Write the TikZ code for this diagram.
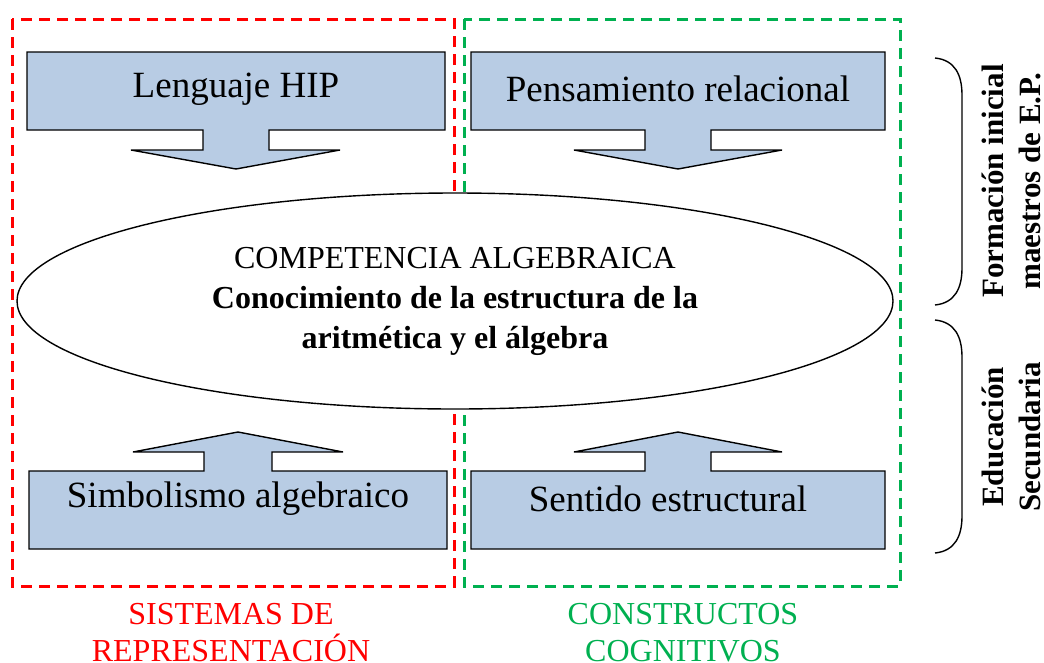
\documentclass[tikz,border=0pt]{standalone}
\usepackage{fontspec}
\setmainfont{Liberation Serif}
\usetikzlibrary{shapes.geometric}
\definecolor{cajaazul}{RGB}{184,204,228}
\definecolor{rojo}{RGB}{255,0,0}
\definecolor{verde}{RGB}{0,176,80}
\begin{document}
\begin{tikzpicture}[x=1pt,y=-1pt,
  marco/.style={line width=3pt,dash pattern=on 11pt off 7pt},
  flecha/.style={fill=cajaazul,draw=black,line width=1.4pt,line join=miter},
  texto/.style={font=\fontsize{37}{40}\selectfont},
  etiqueta/.style={font=\fontsize{32}{37}\selectfont,align=center},
  lado/.style={font=\fontsize{31}{37}\selectfont\bfseries,align=center,rotate=90},
  llave/.style={line width=1.4pt}]
  \useasboundingbox (0,0) rectangle (1044,662);
  % marcos
  \draw[marco,rojo] (12,19) rectangle (454,586);
  \draw[marco,verde] (464,19) rectangle (900,586);
  % flechas de arriba
  \draw[flecha] (27,52) -- (445,52) -- (445,130) -- (269,130) -- (269,150) -- (340,150)
    -- (236,169) -- (131,150) -- (203,150) -- (203,130) -- (27,130) -- cycle;
  \draw[flecha] (471,52) -- (885,52) -- (885,130) -- (711,130) -- (711,150) -- (782,150)
    -- (678,169) -- (574,150) -- (645,150) -- (645,130) -- (471,130) -- cycle;
  \node[texto] (hip) at (236,89) {Lenguaje HIP};
  \node[texto] (relacional) at (678,89) {Pensamiento relacional};
  % flechas de abajo
  \draw[flecha] (29,549) -- (447,549) -- (447,471) -- (272,471) -- (272,452) -- (343,452)
    -- (238,432) -- (133,452) -- (204,452) -- (204,471) -- (29,471) -- cycle;
  \draw[flecha] (471,549) -- (885,549) -- (885,471) -- (711,471) -- (711,452) -- (782,452)
    -- (678,432) -- (574,452) -- (645,452) -- (645,471) -- (471,471) -- cycle;
  \node[texto] (simbolismo) at (238,499) {Simbolismo algebraico};
  \node[texto] (sentido) at (668,499) {Sentido estructural};
  % elipse central
  \node[ellipse,draw,fill=white,line width=1.4pt,minimum width=876pt,minimum height=216pt,
    inner sep=0pt,align=center,font=\fontsize{32}{40}\selectfont] (competencia) at (455,301)
    {COMPETENCIA ALGEBRAICA\\ \textbf{Conocimiento de la estructura de la}\\ \textbf{aritmética y el álgebra}};
  % etiquetas
  \node[etiqueta,text=rojo] (sistemas) at (231,633) {SISTEMAS DE\\REPRESENTACIÓN};
  \node[etiqueta,text=verde] (constructos) at (683,633) {CONSTRUCTOS\\COGNITIVOS};
  % llaves
  \coordinate (f1) at (935,58);
  \coordinate (f2) at (935,305);
  \coordinate (e1) at (935,320);
  \coordinate (e2) at (935,553);
  \draw[llave] (f1) .. controls (955,60) and (962,75) .. (962,95) -- (962,268)
    .. controls (962,288) and (955,303) .. (f2);
  \draw[llave] (e1) .. controls (955,322) and (962,337) .. (962,357) -- (962,516)
    .. controls (962,536) and (955,551) .. (e2);
  \node[lado] (formacion) at (1011,181) {Formación inicial\\maestros de E.P.};
  \node[lado] (educacion) at (1011,437) {Educación\\Secundaria};
\end{tikzpicture}
\end{document}
